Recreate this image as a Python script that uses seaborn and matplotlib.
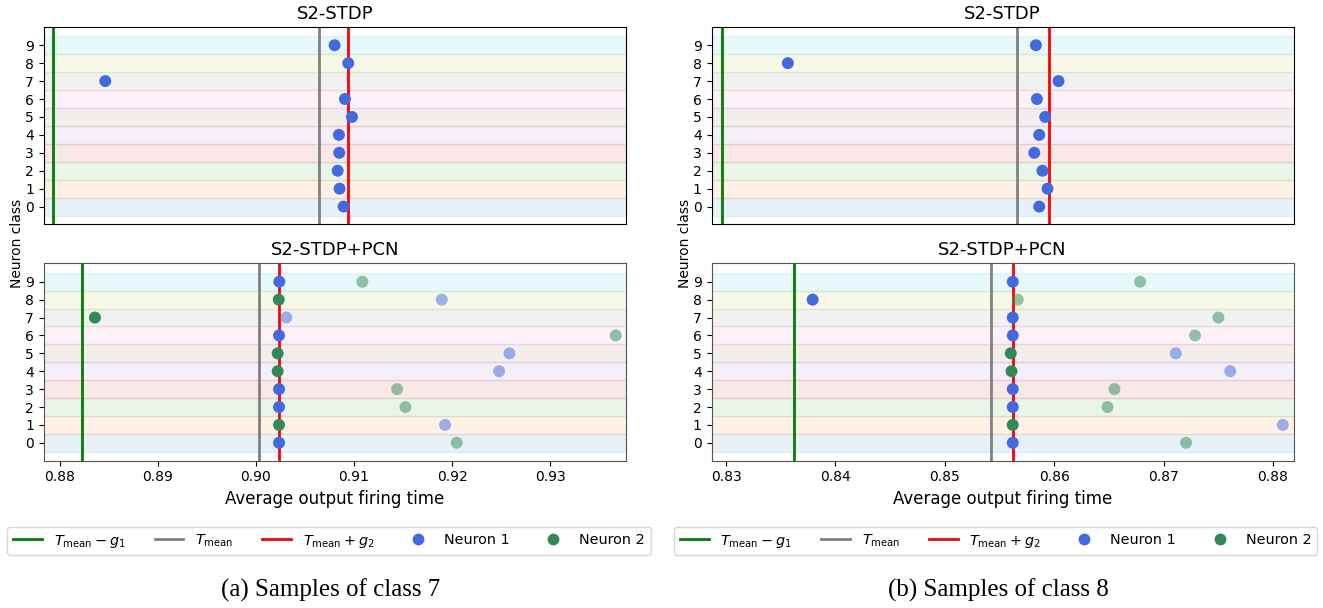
import matplotlib
matplotlib.use("Agg")
import matplotlib.pyplot as plt
import numpy as np
import pandas as pd
import seaborn as sns
from matplotlib.lines import Line2D

# ---------------- data ----------------
classes = list(range(10))

# (a) Samples of class 7
a_top_n1 = [0.91061, 0.91020, 0.91000, 0.91016, 0.91013, 0.91146, 0.91074, 0.88629, 0.91108, 0.90969]
a_top_lines = [0.88098, 0.90806, 0.91102]          # Tmean-g1, Tmean, Tmean+g2
a_top_xlim = [0.8800, 0.9394]
a_bot_n1 = [0.90235, 0.91929, 0.90235, 0.90235, 0.92480, 0.92585, 0.90235, 0.90309, 0.91895, 0.90238]
a_bot_n2 = [0.92048, 0.90235, 0.91525, 0.91439, 0.90221, 0.90221, 0.93670, 0.88357, 0.90232, 0.91085]
a_bot_lines = [0.88228, 0.90034, 0.90232]
a_bot_xlim = [0.87834, 0.93772]
a_xticks = [0.88, 0.89, 0.90, 0.91, 0.92, 0.93]

# (b) Samples of class 8
b_top_n1 = [0.85997, 0.86073, 0.86027, 0.85952, 0.85997, 0.86052, 0.85976, 0.86173, 0.83698, 0.85967]
b_top_lines = [0.83097, 0.85790, 0.86091]
b_top_xlim = [0.8300, 0.88324]
b_bot_n1 = [0.85621, 0.88091, 0.85621, 0.85621, 0.87610, 0.87112, 0.85621, 0.85621, 0.83791, 0.85621]
b_bot_n2 = [0.87206, 0.85621, 0.86488, 0.86551, 0.85610, 0.85603, 0.87288, 0.87502, 0.85667, 0.86786]
b_bot_lines = [0.83617, 0.85424, 0.85627]
b_bot_xlim = [0.82866, 0.88190]
b_xticks = [0.83, 0.84, 0.85, 0.86, 0.87, 0.88]

titles = ["S2-STDP", "S2-STDP+PCN"]
captions = ["(a) Samples of class 7", "(b) Samples of class 8"]
line_labels = [r"$T_{\mathrm{mean}} - g_1$", r"$T_{\mathrm{mean}}$", r"$T_{\mathrm{mean}} + g_2$"]
neuron_labels = ["Neuron 1", "Neuron 2"]

# ---------------- style ----------------
line_colors = ["green", "gray", "red"]
neuron_colors = ["royalblue", "seagreen"]
band_colors = plt.get_cmap("tab10").colors
DOT = 74

fig = plt.figure(figsize=(13.23, 6.08), dpi=100)


def draw_panel(ax, n1, n2, lines, xlim, title, spine_color):
    for c, col in zip(classes, band_colors):
        ax.axhspan(c - 0.5, c + 0.5, color=col, alpha=0.1, zorder=0)
    for v, col in zip(lines, line_colors):
        ax.axvline(v, color=col, lw=2, zorder=2)
    rows = []
    for i, c in enumerate(classes):
        if n2 is None:
            rows.append(dict(cls=c, t=n1[i], neuron=neuron_labels[0], first=True))
        else:
            first1 = n1[i] <= n2[i]
            rows.append(dict(cls=c, t=n1[i], neuron=neuron_labels[0], first=first1))
            rows.append(dict(cls=c, t=n2[i], neuron=neuron_labels[1], first=not first1))
    df = pd.DataFrame(rows)
    pal = dict(zip(neuron_labels, neuron_colors))
    for first, alpha in [(False, 0.5), (True, 1.0)]:
        sub = df[df["first"] == first]
        if len(sub):
            sns.scatterplot(data=sub, x="t", y="cls", hue="neuron", palette=pal,
                            hue_order=neuron_labels, s=DOT, linewidth=0, alpha=alpha,
                            legend=False, ax=ax, zorder=3)
    ax.set_xlim(*xlim)
    ax.set_yticks(classes)
    ax.set_yticklabels([str(c) for c in classes], fontsize=10)
    ax.set_xlabel("")
    ax.set_ylabel("")
    ax.set_title(title, fontsize=13, pad=6)
    for sp in ax.spines.values():
        sp.set_color(spine_color)


panels = [
    (0.0330, a_top_n1, a_top_lines, a_top_xlim, a_bot_n1, a_bot_n2, a_bot_lines, a_bot_xlim, a_xticks, 0.2487),
    (0.5378, b_top_n1, b_top_lines, b_top_xlim, b_bot_n1, b_bot_n2, b_bot_lines, b_bot_xlim, b_xticks, 0.7525),
]
W = 0.4400

for k, (x0, tn1, tl, txl, bn1, bn2, bl, bxl, xt, lc) in enumerate(panels):
    ax_t = fig.add_axes([x0, 0.6316, W, 0.3235])
    ax_b = fig.add_axes([x0, 0.2423, W, 0.3246])
    draw_panel(ax_t, tn1, None, tl, txl, titles[0], "black")
    ax_t.set_ylim(-0.97, 10.0)
    ax_t.set_xticks([])
    draw_panel(ax_b, bn1, bn2, bl, bxl, titles[1], "#555555")
    ax_b.set_ylim(-1.0, 10.03)
    ax_b.set_xticks(xt)
    ax_b.set_xticklabels([f"{v:.2f}" for v in xt], fontsize=10)
    ax_b.set_xlabel("Average output firing time", fontsize=12)

    xc = x0 + W / 2
    fig.text(0.0128 + x0 - 0.0330, 0.600, "Neuron class", rotation=90,
             ha="center", va="center", fontsize=10)

    handles = [Line2D([0], [0], color=c, lw=2) for c in line_colors]
    handles += [Line2D([0], [0], marker="o", color="w", markerfacecolor=c,
                       markeredgewidth=0, markersize=8.5) for c in neuron_colors]
    fig.legend(handles, line_labels + neuron_labels, ncol=5, fontsize=10.4,
               loc="center", bbox_to_anchor=(lc, 1 - 541 / 608))
    fig.text(xc - 0.003, 1 - 590 / 608, captions[k], ha="center", va="center",
             fontsize=18, family="Liberation Serif")

fig.savefig("out.png", dpi=100)
